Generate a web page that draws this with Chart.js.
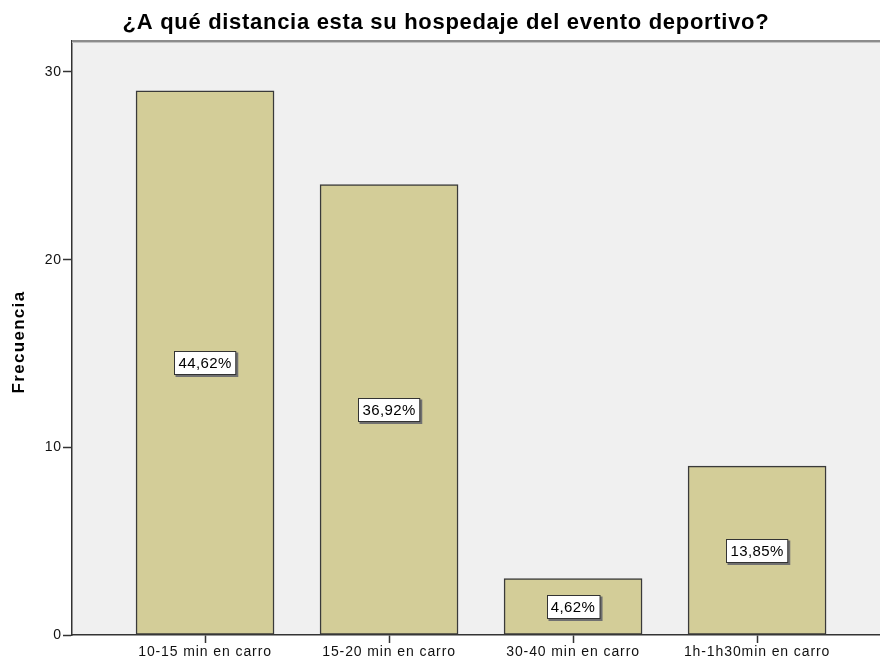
<!DOCTYPE html>
<html><head><meta charset="utf-8">
<script src="https://cdn.jsdelivr.net/npm/chart.js@4"></script>
<style>html,body{margin:0;padding:0;background:#fff}#wrap{width:880px;height:664px}</style>
</head><body><div id="wrap"><canvas id="c" width="880" height="664"></canvas></div>
<script>
const categories = ["10-15 min en carro","15-20 min en carro","30-40 min en carro","1h-1h30min en carro"];
const frequencies = [29, 24, 3, 9];
const percentLabels = ["44,62%","36,92%","4,62%","13,85%"];
const yTicks = [0, 10, 20, 30];
const titleText = "¿A qué distancia esta su hospedaje del evento deportivo?";
const yTitle = "Frecuencia";

const FONT = "'Liberation Sans', Arial, sans-serif";

const deco = {
  id: 'deco',
  beforeDraw(chart) {
    const {ctx, chartArea: a} = chart;
    ctx.save();
    ctx.fillStyle = '#f0f0f0';
    ctx.fillRect(a.left, a.top, a.right - a.left, a.bottom - a.top);
    ctx.restore();
    ctx.letterSpacing = '0.9px';
  },
  afterDraw(chart) {
    const {ctx, chartArea: a} = chart;
    ctx.save();
    ctx.fillStyle = '#8c8c8c';
    ctx.fillRect(a.left, a.top - 1, a.right - a.left, 2);
    ctx.fillStyle = '#c4c4c4';
    ctx.fillRect(a.left, a.top + 1, a.right - a.left, 1);
    ctx.fillStyle = '#000';
    ctx.font = "bold 22px " + FONT;
    ctx.letterSpacing = '0.7px';
    ctx.textAlign = 'center';
    ctx.textBaseline = 'middle';
    ctx.fillText(titleText, 446, 23);
    ctx.translate(19, 342);
    ctx.rotate(-Math.PI / 2);
    ctx.font = "bold 17px " + FONT;
    ctx.letterSpacing = '1.3px';
    ctx.fillText(yTitle, 0, 0);
    ctx.restore();
  },
  afterDatasetsDraw(chart) {
    const {ctx} = chart;
    const xs = chart.scales.x, ys = chart.scales.y;
    ctx.save();
    ctx.font = "15px " + FONT;
    ctx.letterSpacing = '0.4px';
    ctx.textAlign = 'center';
    ctx.textBaseline = 'middle';
    frequencies.forEach((v, i) => {
      const cx = xs.getPixelForValue(i);
      const cy = ys.getPixelForValue(v / 2);
      const w = ctx.measureText(percentLabels[i]).width + 8;
      const h = 23;
      const x0 = Math.round(cx - w / 2) + 0.5, y0 = Math.round(cy - h / 2) + 0.5;
      ctx.fillStyle = '#707070';
      ctx.fillRect(x0 + 1, y0 + 1, w + 1.5, h + 1.5);
      ctx.fillStyle = '#fff';
      ctx.fillRect(x0, y0, w, h);
      ctx.strokeStyle = '#333';
      ctx.lineWidth = 1;
      ctx.strokeRect(x0, y0, w, h);
      ctx.fillStyle = '#000';
      ctx.fillText(percentLabels[i], cx, cy + 1);
    });
    ctx.restore();
  }
};

new Chart(document.getElementById('c'), {
  type: 'bar',
  data: {
    datasets: [{
      data: frequencies.map((v, i) => ({x: i, y: v})),
      backgroundColor: '#d3cd98',
      borderColor: '#3a3a3a',
      borderWidth: 1.5,
      borderSkipped: false,
      barThickness: 138
    }]
  },
  options: {
    responsive: false,
    animation: false,
    events: [],
    layout: {padding: {top: 41, right: 0, left: 0, bottom: 0}},
    plugins: {legend: {display: false}, tooltip: {enabled: false}, title: {display: false}},
    scales: {
      x: {
        type: 'linear',
        offset: false,
        min: -0.723,
        max: 3.668,
        afterBuildTicks(s) { s.ticks = categories.map((c, i) => ({value: i})); },
        afterFit(s) { s.height = 29; },
        grid: {display: true, offset: false, drawOnChartArea: false, tickLength: 8, color: '#333', tickWidth: 1.5},
        border: {display: true, color: '#333', width: 1.5},
        ticks: {
          callback: (v) => categories[v],
          color: '#111',
          font: {family: FONT, size: 14},
          padding: 1,
          maxRotation: 0,
          autoSkip: false
        }
      },
      y: {
        min: 0,
        max: 31.65,
        afterBuildTicks(s) { s.ticks = yTicks.map(v => ({value: v})); },
        afterFit(s) { s.width = 72; },
        grid: {display: true, drawOnChartArea: false, tickLength: 9, color: '#333', tickWidth: 1.5},
        border: {display: true, color: '#333', width: 1.5},
        ticks: {
          color: '#111',
          font: {family: FONT, size: 14},
          padding: 1
        }
      }
    }
  },
  plugins: [deco]
});
</script>
</body></html>
